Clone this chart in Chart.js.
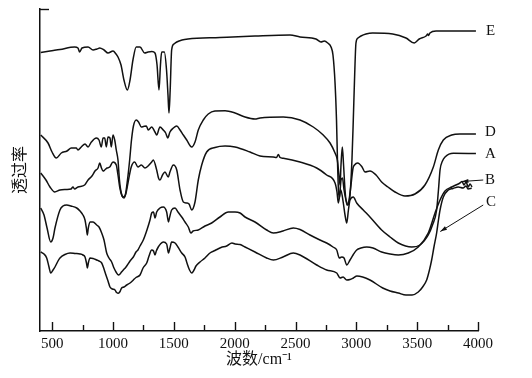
<!DOCTYPE html>
<html>
<head>
<meta charset="utf-8">
<script src="https://cdn.jsdelivr.net/npm/chart.js@4/dist/chart.umd.min.js"></script>
<style>
  html, body { margin: 0; padding: 0; background: #fff; }
</style>
</head>
<body>
<canvas id="irChart" width="532" height="378"></canvas>
<script>
// FTIR spectra, [wavenumber cm-1, transmittance (a.u.)]
const curveA = [[406,158],[449,151],[482,144],[521,139],[564,141],[614,141.5],[655,142],[671,144],[684,142],[712,144],[767,146],[795,151],[827,155],[852,160],[877,163],[891,168],[905,163],[918,160],[932,161],[951,163],[973,164],[1000,169],[1027,166],[1041,156],[1055,144],[1074,135],[1090,133],[1107,138],[1123,148],[1150,164],[1178,169],[1205,164],[1233,166],[1263,163],[1288,165],[1318,169],[1331,171],[1359,161],[1374,153],[1386,151],[1407,156],[1427,159],[1454,154],[1468,159],[1496,166],[1524,161],[1551,141],[1578,129],[1606,128],[1625,127],[1647,121],[1674,129],[1701,151],[1729,166],[1770,179],[1838,183.5],[1921,185],[2003,184],[2126,179],[2208,175],[2317,174],[2344,173.5],[2359,176.5],[2373,173.5],[2400,172.7],[2537,169],[2674,163],[2756,156],[2825,148],[2841,139],[2852,128],[2872,141],[2893,128],[2907,116],[2921,108],[2935,121],[2948,131],[2975,134],[3003,128],[3057,121],[3112,114],[3208,101],[3277,94],[3345,88],[3455,84],[3523,86],[3591,96],[3626,106],[3660,121],[3675,141],[3688,161],[3708,170],[3729,174],[3797,177.7],[3983,177.5]];

const curveB = [[406,123],[433,116],[458,103],[488,89],[507,93],[523,103],[564,121],[589,125],[619,126],[655,125],[702,123],[729,120],[753,116],[770,111],[781,103],[789,96],[797,103],[811,109],[836,109],[866,106],[885,104],[907,98],[926,91],[948,78],[967,73],[989,69],[1008,63],[1025,59],[1044,56],[1058,57],[1070,59],[1085,61],[1107,64],[1140,70],[1167,74],[1189,79],[1205,81],[1222,85],[1249,91],[1279,101],[1304,111],[1318,118],[1333,119],[1345,113],[1359,119],[1386,123],[1413,124],[1441,119],[1456,109],[1464,113],[1482,121],[1510,123],[1534,119],[1565,114],[1592,109],[1619,104],[1641,98],[1658,100],[1701,101],[1756,105],[1811,108],[1879,114],[1948,119],[2003,119],[2044,118],[2085,114],[2167,109],[2263,101],[2318,98],[2397,100],[2482,103],[2537,101.5],[2619,96],[2701,91],[2756,88],[2808,84],[2839,81],[2860,73],[2880,74],[2899,73],[2921,66],[2948,71],[2973,76],[3003,81],[3038,83],[3085,84],[3137,83],[3208,79],[3277,77],[3345,76],[3427,78],[3509,84],[3591,98],[3647,118],[3688,131],[3729,140],[3784,144],[3819,146],[3852,148],[3869,149.5],[3885,146],[3902,149],[3920,144],[3934,147],[3951,144]];

const curveC = [[406,79],[433,77],[455,73],[474,64],[488,58],[507,61],[523,64],[548,70],[564,73],[605,76.5],[647,78],[688,77.5],[729,77],[753,76],[770,74],[782,68],[789,63],[799,69],[811,73],[836,72.5],[866,71],[885,70],[907,68],[926,62],[942,56],[959,50],[975,44],[996,42],[1016,41],[1030,38.5],[1044,37.7],[1058,39.5],[1071,43],[1090,44],[1113,46],[1140,48],[1167,51],[1189,53.5],[1222,56],[1247,63],[1277,68],[1296,75],[1318,81],[1333,80],[1345,76],[1356,80],[1372,84],[1390,87],[1413,89],[1441,87],[1456,78],[1468,83],[1482,89],[1510,88],[1534,84],[1565,78],[1592,74],[1608,68],[1629,61],[1647,58],[1666,61],[1682,65],[1715,69],[1756,73],[1797,78],[1838,80.5],[1888,83.5],[1934,85],[1978,88],[2003,87],[2044,86.5],[2085,84],[2167,79],[2263,73],[2318,71],[2397,74],[2482,78],[2537,76],[2674,66],[2756,61],[2839,58],[2866,53],[2891,54],[2921,51],[2948,51.5],[2975,53],[3005,55],[3052,54],[3112,51],[3217,43],[3277,40],[3345,38],[3408,36],[3458,36],[3509,39],[3545,44],[3578,51],[3601,61],[3619,71],[3638,84],[3660,98],[3675,111],[3688,121],[3715,134],[3756,141],[3795,142.5],[3838,144],[3877,143],[3902,145],[3918,142],[3948,142.7]];

const curveD = [[406,196],[466,188],[499,179],[534,173],[575,178],[622,180],[657,183],[698,183],[712,181],[739,184],[770,187],[795,184],[822,189],[863,193],[885,191],[904,184],[918,193],[932,193],[945,184],[959,194],[975,193],[986,184],[1000,196],[1014,191],[1027,181],[1041,171],[1053,151],[1068,138],[1086,134],[1101,136],[1119,151],[1137,171],[1152,191],[1168,205],[1191,211],[1210,209],[1233,204],[1251,204.5],[1274,205],[1290,201],[1318,204],[1345,199],[1359,196],[1386,204],[1413,201],[1433,198],[1450,193],[1468,199],[1496,203],[1524,205],[1551,201],[1578,196],[1606,191],[1647,184],[1674,189],[1701,201],[1742,211],[1783,217],[1838,220],[1921,220.3],[2003,218],[2085,214],[2167,212],[2208,213],[2400,214],[2537,211],[2646,204],[2728,196],[2784,188],[2825,178],[2844,171],[2857,156],[2866,146],[2874,166],[2885,184],[2895,166],[2907,141],[2923,126],[2940,131],[2956,146],[2973,163],[2985,166],[3011,168],[3047,164],[3071,159],[3112,160],[3162,156],[3208,149],[3260,144],[3318,139],[3400,135],[3482,137],[3564,146],[3633,164],[3674,181],[3715,191],[3784,196],[3852,197],[3983,197]];

const curveE = [[406,278.5],[482,280],[564,281.5],[685,284],[712,283],[726,279],[745,283],[795,284],[836,281],[868,282],[891,283],[926,281],[959,278],[1000,280],[1025,277],[1041,274],[1066,266],[1090,251],[1118,241],[1140,251],[1164,271],[1191,284],[1222,284],[1260,278],[1288,279],[1320,279.5],[1345,278],[1362,266],[1378,241],[1390,266],[1400,279],[1422,279],[1440,261],[1452,236],[1460,218],[1470,241],[1482,281],[1501,287],[1524,289],[1567,291],[1616,292],[1879,293.5],[2167,295],[2455,296],[2537,294],[2668,292],[2709,289],[2737,290],[2765,288],[2792,284],[2808,276],[2825,248],[2837,211],[2845,171],[2853,141],[2861,133],[2874,151],[2886,153],[2899,141],[2915,131],[2932,126],[2948,136],[2964,171],[2975,211],[2985,251],[2997,288],[3014,293],[3038,295],[3079,297],[3134,298],[3299,297],[3408,293],[3476,288],[3517,292],[3573,295],[3587,297],[3593,295.5],[3605,298],[3655,300],[3983,300]];

const seriesNames = ['A', 'B', 'C', 'D', 'E'];
const seriesData = [curveA, curveB, curveC, curveD, curveE];
const xTickValues = [500, 1000, 1500, 2000, 2500, 3000, 3500, 4000];

// curve tags at the right end: [name, wavenumber, transmittance]
const tagSpots = [['E', 4065, 300], ['D', 4057, 199], ['A', 4057, 177], ['B', 4057, 151], ['C', 4065, 129]];
// arrows from tag to curve: [fromX, fromY, toX, toY]
const tagArrows = [[4043, 151, 3866, 149.5], [4043, 126, 3690, 99.5]];

const irDecor = {
    id: 'irDecor',
    afterDraw(chart) {
        const { ctx, scales: { x, y } } = chart;
        ctx.save();
        ctx.strokeStyle = '#111';
        ctx.fillStyle = '#111';
        ctx.lineWidth = 1.4;

        // inward tick marks, long at labelled values
        for (let v = 500; v <= 4000; v += 250) {
            const px = Math.round(x.getPixelForValue(v)) + 0.5;
            const len = v % 500 === 0 ? 9 : 6;
            ctx.beginPath();
            ctx.moveTo(px, y.bottom);
            ctx.lineTo(px, y.bottom - len);
            ctx.stroke();
        }
        // stub at top of y axis
        ctx.beginPath();
        ctx.moveTo(x.left, y.top + 0.5);
        ctx.lineTo(x.left + 9, y.top + 0.5);
        ctx.stroke();

        // tags
        ctx.font = '15px "Liberation Serif", serif';
        ctx.textBaseline = 'middle';
        ctx.textAlign = 'left';
        tagSpots.forEach(([name, wn, t]) => {
            ctx.fillText(name, x.getPixelForValue(wn), y.getPixelForValue(t));
        });

        // arrows
        ctx.lineWidth = 1;
        tagArrows.forEach(([x0, y0, x1, y1]) => {
            const ax = x.getPixelForValue(x0), ay = y.getPixelForValue(y0);
            const bx = x.getPixelForValue(x1), by = y.getPixelForValue(y1);
            ctx.beginPath();
            ctx.moveTo(ax, ay);
            ctx.lineTo(bx, by);
            ctx.stroke();
            const ang = Math.atan2(by - ay, bx - ax);
            ctx.beginPath();
            ctx.moveTo(bx, by);
            ctx.lineTo(bx - 7 * Math.cos(ang - 0.3), by - 7 * Math.sin(ang - 0.3));
            ctx.lineTo(bx - 7 * Math.cos(ang + 0.3), by - 7 * Math.sin(ang + 0.3));
            ctx.closePath();
            ctx.fill();
        });
        ctx.restore();
    }
};

const irChart = new Chart(document.getElementById('irChart'), {
    type: 'line',
    data: {
        datasets: seriesNames.map((name, i) => ({
            label: name,
            data: seriesData[i].map(p => ({ x: p[0], y: p[1] })),
            borderColor: '#111',
            borderWidth: 1.5,
            pointRadius: 0,
            fill: false,
            cubicInterpolationMode: 'monotone'
        }))
    },
    options: {
        responsive: false,
        animation: false,
        layout: { padding: { top: 9, right: 54, bottom: 0, left: 0 } },
        plugins: {
            legend: { display: false },
            tooltip: { enabled: false }
        },
        scales: {
            x: {
                type: 'linear',
                min: 400,
                max: 4000,
                afterBuildTicks: s => { s.ticks = xTickValues.map(v => ({ value: v })); },
                afterFit: s => { s.height = 47; },
                grid: { display: false, drawTicks: false },
                border: { display: true, color: '#111', width: 1.5 },
                ticks: {
                    padding: 4,
                    color: '#111',
                    maxRotation: 0,
                    callback: v => String(v),
                    font: { family: '"Liberation Serif", serif', size: 15 }
                },
                title: {
                    display: true,
                    text: '波数/cm⁻¹',
                    color: '#111',
                    padding: { top: 0, bottom: 9 },
                    font: { family: '"Liberation Serif", "Noto Sans CJK SC"', size: 16 }
                }
            },
            y: {
                min: 0,
                max: 322,
                afterFit: s => { s.width = 40; },
                grid: { display: false, drawTicks: false },
                border: { display: true, color: '#111', width: 1.5 },
                ticks: { display: false },
                title: {
                    display: true,
                    text: '透过率',
                    color: '#111',
                    padding: { top: 9, bottom: 0 },
                    font: { family: '"Noto Sans CJK SC"', size: 16 }
                }
            }
        }
    },
    plugins: [irDecor]
});
</script>
</body>
</html>
